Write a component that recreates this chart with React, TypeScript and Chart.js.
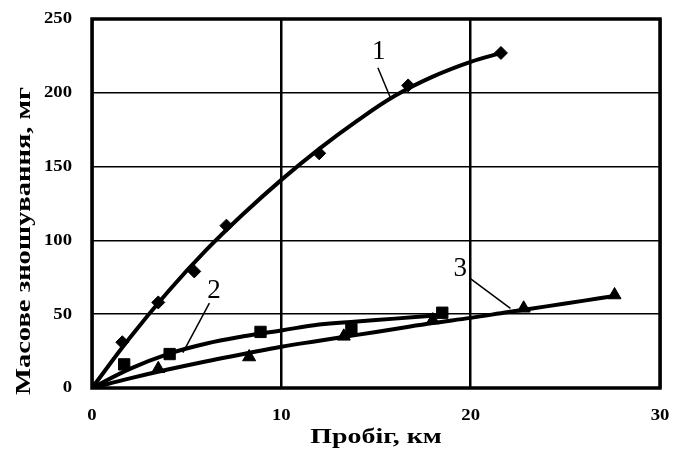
import React, { useEffect, useRef } from "react";
import { Chart, registerables } from "chart.js";

Chart.register(...registerables);

// Fitted trend curves
const trend1X = [0, 2, 4, 6, 8, 10, 12, 14, 16, 18, 20, 21.6];
const trend1Y = [0, 34, 65, 93, 118, 141, 162, 181, 198, 211, 221, 227];
const trend2X = [0, 2, 4, 6, 8, 10, 12, 14, 16, 18.5];
const trend2Y = [0, 13, 23, 30, 35, 39, 43, 45, 47, 49.5];
const trend3X = [0, 2, 4, 6, 8, 10, 12, 14, 16, 18, 20, 22, 24, 26, 27.6];
const trend3Y = [0, 6.5, 12.5, 18, 23, 28, 32, 36, 40, 44, 47.5, 51.5, 55.3, 59.2, 62.3];

// Measured points
const m1X = [0, 1.6, 3.5, 5.4, 7.1, 12.0, 16.7, 21.6];
const m1Y = [0, 31, 58, 79, 110, 159, 205, 227];
const m2X = [0, 1.7, 4.1, 8.9, 13.7, 18.5];
const m2Y = [0, 16, 23, 38, 40, 51];
const m3X = [0, 3.5, 8.3, 13.3, 18.0, 22.8, 27.6];
const m3Y = [0, 13, 21, 35, 46, 54, 63];

// Curve labels with leader lines (data units)
const curveLabels = ["1", "2", "3"];
const labelPos = [
  [15.15, 227.5],
  [6.45, 66],
  [19.45, 81],
];
const leaderFrom = [
  [15.1, 217],
  [6.2, 57.5],
  [19.95, 74.5],
];
const leaderTo = [
  [15.8, 195.5],
  [4.8, 24],
  [22.1, 54],
];

const xTicks = [0, 10, 20, 30];
const yTicks = [0, 50, 100, 150, 200, 250];
const xTitle = "Пробіг, км";
const yTitle = "Масове зношування, мг";

const zip = (xs: number[], ys: number[]) => xs.map((x, i) => ({ x, y: ys[i] }));

function stretchedText(ctx: CanvasRenderingContext2D, text: string, x: number, y: number, sx: number, align: CanvasTextAlign) {
  ctx.save();
  ctx.translate(x, y);
  ctx.scale(sx, 1);
  ctx.textAlign = align;
  ctx.fillText(text, 0, 0);
  ctx.restore();
}

export default function App() {
  const ref = useRef<HTMLCanvasElement | null>(null);
  useEffect(() => {
    document.body.style.margin = "0";
    const canvas = ref.current!;
    const overlay = {
      id: "overlay",
      afterDatasetsDraw(chart: any) {
        const { ctx, chartArea: a, scales } = chart;
        const xs = scales.x;
        const ys = scales.y;
        ctx.save();
        // frame
        ctx.strokeStyle = "#000";
        ctx.lineWidth = 3.5;
        ctx.strokeRect(a.left, a.top, a.right - a.left, a.bottom - a.top);
        // leaders + labels
        ctx.lineWidth = 1.5;
        ctx.fillStyle = "#000";
        for (let i = 0; i < curveLabels.length; i++) {
          ctx.beginPath();
          ctx.moveTo(xs.getPixelForValue(leaderFrom[i][0]), ys.getPixelForValue(leaderFrom[i][1]));
          ctx.lineTo(xs.getPixelForValue(leaderTo[i][0]), ys.getPixelForValue(leaderTo[i][1]));
          ctx.stroke();
          ctx.font = "27px 'Liberation Serif'";
          ctx.textAlign = "center";
          ctx.textBaseline = "middle";
          ctx.fillText(curveLabels[i], xs.getPixelForValue(labelPos[i][0]), ys.getPixelForValue(labelPos[i][1]));
        }
        // tick labels
        ctx.font = "bold 17px 'Liberation Serif'";
        ctx.textBaseline = "middle";
        for (const v of yTicks) {
          stretchedText(ctx, String(v), a.left - 20, ys.getPixelForValue(v), 1.1, "right");
        }
        for (const v of xTicks) {
          stretchedText(ctx, String(v), xs.getPixelForValue(v), a.bottom + 28, 1.1, "center");
        }
        // axis titles
        ctx.font = "bold 21px 'Liberation Serif'";
        stretchedText(ctx, xTitle, (a.left + a.right) / 2, a.bottom + 50, 1.33, "center");
        ctx.save();
        ctx.translate(25, a.top + 222);
        ctx.rotate(-Math.PI / 2);
        stretchedText(ctx, yTitle, 0, 0, 1.36, "center");
        ctx.restore();
        ctx.restore();
      },
    };
    const fixPad = (s: any) => {
      s.paddingLeft = 0;
      s.paddingRight = 0;
      s.paddingTop = 0;
      s.paddingBottom = 0;
    };
    const chart = new Chart(canvas, {
      type: "scatter",
      data: {
        datasets: [
          { data: zip(m1X, m1Y), pointStyle: "rectRot", pointRadius: 6.5, backgroundColor: "#000", borderColor: "#000", showLine: false },
          { data: zip(m2X, m2Y), pointStyle: "rect", pointRadius: 8, backgroundColor: "#000", borderColor: "#000", showLine: false },
          { data: zip(m3X, m3Y), pointStyle: "triangle", pointRadius: 7.5, backgroundColor: "#000", borderColor: "#000", showLine: false },
          { data: zip(trend1X, trend1Y), showLine: true, borderColor: "#000", borderWidth: 4, pointRadius: 0, tension: 0.4 },
          { data: zip(trend2X, trend2Y), showLine: true, borderColor: "#000", borderWidth: 4, pointRadius: 0, tension: 0.4 },
          { data: zip(trend3X, trend3Y), showLine: true, borderColor: "#000", borderWidth: 4, pointRadius: 0, tension: 0.4 },
        ],
      },
      options: {
        responsive: false,
        animation: false,
        layout: { padding: { top: 19, right: 13, left: 0, bottom: 0 } },
        plugins: { legend: { display: false }, tooltip: { enabled: false } },
        scales: {
          x: {
            type: "linear",
            min: 0,
            max: 30,
            afterFit: (s: any) => { s.height = 67; fixPad(s); },
            afterBuildTicks: (s: any) => { s.ticks = xTicks.map((v) => ({ value: v })); },
            grid: { color: "#000", lineWidth: 2.5, drawTicks: false },
            border: { display: false },
            ticks: { display: false },
          },
          y: {
            type: "linear",
            min: 0,
            max: 250,
            afterFit: (s: any) => { s.width = 92; fixPad(s); },
            afterBuildTicks: (s: any) => { s.ticks = yTicks.map((v) => ({ value: v })); },
            grid: { color: "#000", lineWidth: 1.6, drawTicks: false },
            border: { display: false },
            ticks: { display: false },
          },
        },
      },
      plugins: [overlay],
    } as any);
    return () => chart.destroy();
  }, []);
  return (
    <div style={{ width: 673, height: 455, background: "#fff" }}>
      <canvas ref={ref} width={673} height={455} />
    </div>
  );
}
